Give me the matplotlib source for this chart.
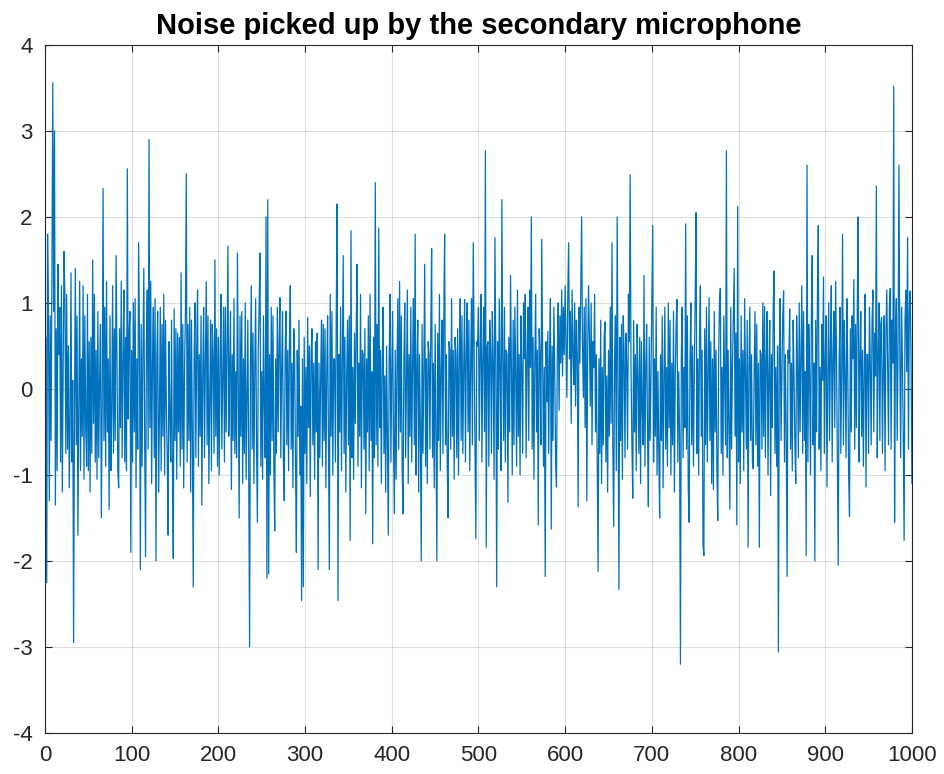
import numpy as np
import matplotlib
matplotlib.use('Agg')
import matplotlib.pyplot as plt

# noise samples (approximate)
noise = [
    0.60, -2.25, 1.80, 0.95, -1.30, 0.85, -0.60, 1.30, 3.56, 0.90, 3.00, -1.35, 0.70, -0.95, 1.45, 0.40, 0.95, -0.85, 1.20, -1.20,
    0.30, 1.60, 1.05, -0.75, 1.10, -0.70, 0.50, -1.15, -0.40, 1.35, -0.85, 0.10, -2.95, -0.25, 1.40, -0.65, 0.85, -1.70, -0.30, 1.25,
    -0.95, 0.35, -0.55, 1.20, -1.05, 0.85, -0.45, -0.90, 1.10, -0.95, 0.55, -1.20, 0.60, -0.75, 1.50, -0.40, 1.10, -0.85, 0.45, -1.05,
    0.90, -0.80, 0.10, 0.75, -1.50, -0.20, 2.33, -0.60, 0.95, -0.90, 1.25, -0.50, 0.35, -1.40, 0.85, -0.95, -0.25, 1.20, -0.75, 0.70,
    -0.60, 1.55, 0.40, -0.95, -1.15, 0.70, -0.45, 1.25, -0.80, 0.30, 1.15, -0.85, 0.60, -0.95, 2.56, -0.35, 0.65, 0.90, -1.90, 0.45,
    -0.85, 1.00, -0.50, 1.05, -1.15, 0.35, -0.70, 1.70, 0.60, -2.10, 0.75, -0.90, 0.40, 1.40, -0.60, -1.95, 0.55, 1.15, -0.70, 2.90,
    -0.45, 1.25, -1.10, 0.30, 0.95, -0.80, 1.05, -2.00, 0.35, 0.90, -1.20, -0.35, 0.95, -0.95, 0.75, -0.55, 1.10, -1.00, 0.80, -0.20,
    -0.80, -1.70, 0.55, -0.30, -0.85, 0.80, -0.95, -1.97, 0.93, -0.60, 0.70, -1.05, 0.65, -0.50, 0.60, -0.90, 1.35, -0.70, 0.75, -1.15,
    0.25, 0.90, 2.50, -0.85, 0.75, -0.60, 0.95, -1.20, 0.80, -0.55, -2.30, 0.35, 1.00, -0.80, 0.45, 1.15, -0.90, 0.40, -0.55, 0.85,
    -1.35, 0.20, 0.95, -0.80, 0.30, 1.25, -0.65, 0.85, -1.10, -0.20, 0.80, -0.95, 0.75, 0.35, -0.75, 1.50, -0.55, 0.70, -0.90, 0.60,
    -1.00, 0.35, 1.10, -0.70, 0.15, 0.95, -0.85, 0.95, -0.50, 0.45, 1.66, -0.55, 0.25, 0.90, -1.17, 0.40, -0.60, 1.05, -0.75, 0.20,
    -0.80, 1.58, 0.10, -1.50, 0.85, -0.55, 0.90, -1.10, 0.35, -0.75, 1.00, -1.05, -0.15, 0.80, -0.95, -3.00, 0.30, 1.20, -0.70, 0.65,
    -1.10, 0.25, 1.05, -0.65, -1.55, 0.45, 0.95, 1.58, -0.90, 0.20, -1.05, 0.85, -0.20, -0.80, 2.00, -2.20, 2.20, -2.15, 0.40, -1.00,
    0.95, -0.60, 0.85, -0.95, -1.65, 0.35, -0.75, 0.95, -0.50, 0.50, 1.06, -0.80, 0.25, 0.90, -0.85, -1.30, 0.40, 0.90, -0.65, 0.45,
    -0.95, 0.55, 1.20, -0.70, 0.30, -1.15, 0.70, 0.35, -0.90, -1.90, 0.45, -0.55, 0.80, -1.00, -0.20, -2.46, 0.35, -2.30, 0.60, -0.75,
    0.25, -1.10, 0.83, -0.45, 0.50, -1.25, 0.40, 0.70, -0.65, 0.30, -1.05, 0.55, -0.50, 0.65, -2.10, 0.30, -0.80, 0.15, 0.80, -0.90,
    0.75, -0.60, 0.70, -1.15, 0.20, 0.85, -0.70, -2.10, 1.10, -0.55, 0.90, -1.00, 0.35, 0.35, -0.85, 0.90, 2.15, -2.46, 0.40, -0.50,
    0.95, -0.95, 0.30, 1.55, -0.75, 0.60, -1.20, 0.15, 0.80, -0.65, 0.85, -1.76, 1.84, -0.80, 0.25, -1.05, 0.65, -0.40, 0.70, 1.45,
    -0.90, 0.30, -0.55, 1.10, -1.15, 0.45, 0.40, -0.70, 0.70, -1.45, 0.35, -0.50, 0.85, -0.95, 1.10, -0.60, 0.20, -1.80, 0.60, -0.80,
    2.40, -0.65, 0.75, -0.90, 1.87, -0.45, 0.45, -1.10, 0.30, 0.95, -0.75, 0.15, -1.20, 0.50, -0.55, -1.70, 0.35, 1.10, -0.85, 0.20,
    0.90, -0.60, -1.45, 0.45, -1.05, 0.25, 1.05, -0.70, 1.25, -0.50, 0.85, -0.95, -1.45, 0.35, 1.00, -0.80, 0.10, 1.15, -1.10, 0.40,
    -0.55, 0.95, -0.85, 0.30, 1.05, -0.65, 1.80, -1.00, 0.20, 0.80, -1.20, 0.40, -0.45, -2.00, 0.75, -0.75, 0.25, 1.45, -0.90, 0.35,
    -1.10, 0.55, 0.40, -0.70, 0.70, 1.63, -0.80, 0.30, -1.15, 0.75, -0.50, -2.00, 0.65, -0.60, 1.10, -0.95, 0.20, 0.80, -0.75, 0.80,
    1.80, -0.65, 0.40, -0.90, -1.50, 0.55, 0.45, -0.70, 1.05, -0.55, 0.45, -1.05, 0.60, 0.40, -0.80, 0.70, -1.00, 0.35, 1.05, -0.60,
    0.85, -0.75, 0.25, 1.04, -0.85, 0.40, 1.00, -0.50, 0.80, -0.95, 0.30, 1.05, -0.65, 1.70, 0.45, -0.70, -1.74, 0.55, 0.50, 0.95,
    -0.60, 0.45, 1.10, -0.85, 0.35, 0.95, -0.50, 2.77, -1.84, 0.50, 0.55, -0.90, 0.80, 0.45, -0.75, 0.90, 0.30, -1.05, 1.76, 0.40,
    -2.30, 0.55, -0.70, 1.05, 0.20, -0.95, 2.20, 0.35, -0.60, 0.95, -0.85, 0.45, 0.40, -1.32, 0.60, -0.50, 1.32, 0.25, -1.00, 0.80,
    -0.65, 0.95, 0.15, -0.90, 1.15, -0.55, 0.40, -1.00, 0.85, 0.20, -0.75, 1.00, 0.35, 1.10, -0.80, 0.35, 0.95, -0.60, 1.15, 0.25,
    2.00, -0.70, 0.60, -1.05, 0.30, 1.10, -0.50, 0.45, -1.58, 0.70, 0.40, -0.65, 1.74, 0.40, -0.90, 0.25, -2.18, 0.55, -0.15, 0.67,
    -0.75, 0.35, 1.05, -1.63, 0.50, -0.60, 0.95, 0.20, -0.85, -1.14, 0.45, 1.00, -0.25, 0.85, 0.30, 1.15, 0.15, 0.95, 0.40, 1.20,
    0.55, -0.10, 1.05, 1.70, 0.35, 0.90, -0.40, 1.15, 0.45, 0.05, 1.00, -0.20, 0.80, 0.40, -1.37, 0.95, 0.30, 1.10, 2.00, 0.50,
    -0.10, 0.95, -0.45, 1.05, -1.30, 0.45, 1.20, 0.60, -0.20, 1.00, -0.65, 0.55, 0.25, 1.10, -0.50, 0.40, -0.90, -2.12, 0.35, -0.75,
    0.80, -1.10, 0.25, -0.65, 0.60, 0.78, -0.85, 0.15, -1.20, 0.45, -0.55, 0.95, -0.40, 1.70, -0.70, -1.60, 0.35, 0.85, -0.95, 2.00,
    0.20, -2.33, 0.60, -0.60, 0.75, -1.05, 0.85, 0.40, -0.80, 0.65, 0.30, -0.70, 1.10, 0.55, 2.49, 0.20, -0.65, -1.27, 0.80, -0.50,
    0.40, -0.95, 0.75, 0.15, -0.75, 0.60, -1.10, 0.55, -0.25, -0.65, 1.32, -0.90, 0.25, 0.75, -0.50, -1.37, 0.60, -0.60, 0.15, 1.05,
    1.90, -0.85, 0.35, -0.55, 0.95, -1.00, 0.20, -0.75, -1.50, 0.40, -0.60, 0.85, -1.15, 0.10, 0.95, -0.70, 0.25, -0.90, 1.00, -0.45,
    0.80, -1.00, 0.30, -0.65, 0.90, -1.20, 0.15, 0.75, 1.04, -0.85, 0.20, -0.55, -3.20, 0.35, 0.95, -0.80, 0.25, -0.45, 1.92, -0.70,
    0.85, -1.15, -1.55, 0.30, 1.00, -0.65, 0.50, -0.90, 0.20, 1.05, 2.05, -0.75, 0.35, -1.00, 0.60, 1.20, -0.55, 0.45, -1.80, -1.94,
    0.70, -0.65, 0.95, -0.85, 0.20, 1.06, -0.60, 0.55, -1.10, 0.35, -1.17, 0.90, -0.50, 0.45, -0.90, -1.53, 0.30, 1.00, 1.17, -0.75,
    0.25, -1.00, 0.85, 0.10, -0.65, 2.77, -0.80, 0.45, -0.45, -1.40, 0.95, -0.70, 0.30, 0.85, 1.40, -0.55, 0.65, -1.58, 2.12, -0.85,
    0.35, -1.10, 0.85, -0.50, 0.45, -0.95, 1.05, 0.15, -0.70, 0.80, -1.84, 0.25, 0.95, -0.60, 0.40, -0.85, -0.93, 0.20, 0.90, -0.65,
    0.75, -0.90, 0.30, -1.84, 0.45, 0.40, -0.70, 1.00, -0.55, 0.96, -0.80, 0.35, 0.90, -1.00, 0.20, 0.80, -1.24, 0.40, -0.45, 0.95,
    1.37, -0.75, 0.25, -0.90, 0.50, -3.06, 0.35, 1.05, -0.60, 0.15, 0.85, 1.14, -0.85, 0.40, -0.50, -2.18, 0.45, 0.30, 0.93, -0.70,
    0.30, -0.95, 0.80, 0.15, -0.65, -1.10, 0.85, 0.25, -0.80, 1.00, -0.50, 0.40, 1.20, -0.75, 0.90, -0.60, 0.20, -1.94, 2.60, -0.85,
    0.75, 0.15, -1.00, 0.85, 1.55, -0.65, 0.30, -2.00, 0.80, -0.50, 1.05, 1.90, -0.70, 0.25, -0.95, 0.75, 0.10, 1.30, -0.75, 0.35,
    0.85, -1.14, 0.20, 1.00, -0.60, 0.45, 1.20, -0.85, 0.35, 0.90, -0.45, 1.25, 0.40, -0.90, -2.05, 0.30, 0.95, -0.75, 0.20, 1.80,
    -0.65, 0.80, 0.15, -0.80, 1.05, 0.25, -1.00, -1.48, 0.70, -0.50, 0.85, 0.35, 1.27, -0.70, 0.75, -0.45, 1.00, 2.00, -0.85, 0.30,
    0.90, -0.55, 0.45, -0.90, 0.20, 1.10, -1.14, 0.40, 0.40, -0.75, 0.95, 0.30, -0.65, 0.80, 1.15, -0.50, 0.65, 0.15, 2.36, -0.80,
    0.35, 1.00, -0.60, 0.75, 0.83, -0.75, 0.25, 0.85, -0.95, 0.65, 1.15, 0.20, -0.65, 0.95, 1.17, -0.70, 0.80, 0.30, 3.52, -1.55,
    0.60, 1.05, -0.60, 0.45, 2.60, 0.45, -0.80, 0.95, 0.35, -0.55, -1.76, 0.80, 1.15, 0.20, 1.76, -0.70, 0.90, 1.14, 0.35, -1.10,
]
sample = np.arange(1, len(noise) + 1)

xticks = [0, 100, 200, 300, 400, 500, 600, 700, 800, 900, 1000]
yticks = [-4, -3, -2, -1, 0, 1, 2, 3, 4]

plt.rcParams['font.family'] = ['Liberation Sans', 'DejaVu Sans']
plt.rcParams['axes.unicode_minus'] = False

fig = plt.figure(figsize=(9.45, 7.74), dpi=100)
ax = fig.add_axes([0.0476, 0.053, 0.9174, 0.889])

ax.plot(sample, noise, color='#0072BD', linewidth=0.9)

ax.set_xlim(0, 1000)
ax.set_ylim(-4, 4)
ax.set_xticks(xticks)
ax.set_yticks(yticks)
ax.grid(True, color='#262626', alpha=0.15, linewidth=0.8)
ax.tick_params(direction='in', top=True, right=True, length=5, width=0.8,
               colors='#262626', labelsize=16, pad=9)
for s in ax.spines.values():
    s.set_color('#262626')
    s.set_linewidth(0.8)

ax.set_title('Noise picked up by the secondary microphone', fontsize=21,
             fontweight='bold', pad=8)

fig.savefig('out.png', dpi=100)
